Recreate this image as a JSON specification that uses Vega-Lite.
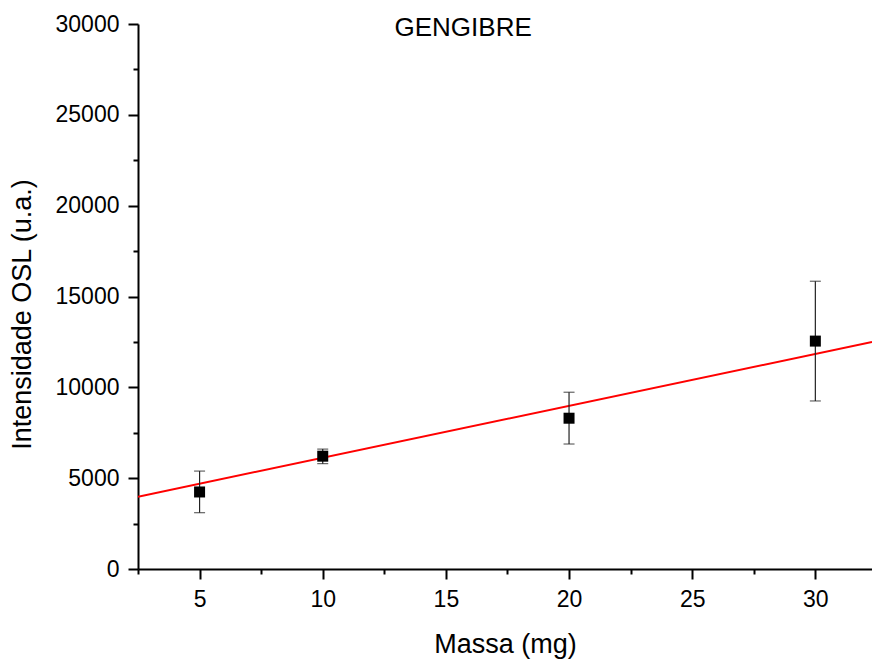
{
  "$schema": "https://vega.github.io/schema/vega-lite/v6.json",
  "width": 734,
  "height": 545,
  "autosize": {"type": "none"},
  "padding": {"left": 138, "top": 24, "right": 0, "bottom": 94},
  "background": "white",
  "config": {
    "view": {"stroke": null},
    "font": "Liberation Sans",
    "axis": {
      "grid": false,
      "domainColor": "black",
      "domainWidth": 2,
      "tickColor": "black",
      "tickWidth": 2,
      "tickSize": 10,
      "labelFont": "Liberation Sans",
      "labelFontSize": 23,
      "labelColor": "black",
      "labelPadding": 9,
      "titleFont": "Liberation Sans",
      "titleFontSize": 27,
      "titleFontWeight": "normal",
      "titleColor": "black"
    }
  },
  "datasets": {
    "pontos": [
      {"massa": 5, "osl": 4240, "lo": 3100, "hi": 5390},
      {"massa": 10, "osl": 6210, "lo": 5800, "hi": 6600},
      {"massa": 20, "osl": 8300, "lo": 6880, "hi": 9730},
      {"massa": 30, "osl": 12545, "lo": 9250, "hi": 15840}
    ],
    "ajuste": [
      {"massa": 2.5, "fit": 3980},
      {"massa": 32.3, "fit": 12495}
    ],
    "menores": [
      {"massa": 2.5, "osl": 2500}
    ],
    "rotulo": [
      {"massa": 15.7, "osl": 29350, "nome": "GENGIBRE"}
    ]
  },
  "resolve": {"axis": {"x": "independent", "y": "independent"}},
  "layer": [
    {
      "data": {"name": "menores"},
      "mark": {"type": "point", "opacity": 0},
      "encoding": {
        "x": {
          "field": "massa", "type": "quantitative",
          "scale": {"domain": [2.5, 32.3], "nice": false, "zero": false},
          "axis": {
            "orient": "bottom", "title": null, "labels": false, "domain": false,
            "values": [2.5, 7.5, 12.5, 17.5, 22.5, 27.5], "tickSize": 5
          }
        },
        "y": {
          "field": "osl", "type": "quantitative",
          "scale": {"domain": [0, 30000], "nice": false},
          "axis": {
            "orient": "left", "title": null, "labels": false, "domain": false,
            "values": [2500, 7500, 12500, 17500, 22500, 27500], "tickSize": 5
          }
        }
      }
    },
    {
      "data": {"name": "ajuste"},
      "mark": {"type": "line", "color": "#ff0000", "strokeWidth": 2, "clip": true},
      "encoding": {
        "x": {
          "field": "massa", "type": "quantitative",
          "scale": {"domain": [2.5, 32.3], "nice": false, "zero": false},
          "axis": {
            "orient": "bottom", "title": "Massa (mg)", "titlePadding": 20,
            "values": [5, 10, 15, 20, 25, 30]
          }
        },
        "y": {
          "field": "fit", "type": "quantitative",
          "scale": {"domain": [0, 30000], "nice": false},
          "axis": {
            "orient": "left", "title": "Intensidade OSL (u.a.)", "titlePadding": 19,
            "titleY": 290,
            "values": [0, 5000, 10000, 15000, 20000, 25000, 30000],
            "format": "d"
          }
        }
      }
    },
    {
      "data": {"name": "pontos"},
      "mark": {"type": "rule", "color": "#222222", "strokeWidth": 1.2},
      "encoding": {
        "x": {"field": "massa", "type": "quantitative", "axis": null},
        "y": {"field": "lo", "type": "quantitative", "axis": null},
        "y2": {"field": "hi"}
      }
    },
    {
      "data": {"name": "pontos"},
      "mark": {"type": "tick", "orient": "horizontal", "color": "#222222", "size": 11, "thickness": 1.2},
      "encoding": {
        "x": {"field": "massa", "type": "quantitative", "axis": null},
        "y": {"field": "lo", "type": "quantitative", "axis": null}
      }
    },
    {
      "data": {"name": "pontos"},
      "mark": {"type": "tick", "orient": "horizontal", "color": "#222222", "size": 11, "thickness": 1.2},
      "encoding": {
        "x": {"field": "massa", "type": "quantitative", "axis": null},
        "y": {"field": "hi", "type": "quantitative", "axis": null}
      }
    },
    {
      "data": {"name": "pontos"},
      "mark": {"type": "square", "color": "black", "filled": true, "opacity": 1, "size": 121},
      "encoding": {
        "x": {"field": "massa", "type": "quantitative", "axis": null},
        "y": {"field": "osl", "type": "quantitative", "axis": null}
      }
    },
    {
      "data": {"name": "rotulo"},
      "mark": {"type": "text", "font": "Liberation Sans", "fontSize": 26, "color": "black", "align": "center", "baseline": "alphabetic"},
      "encoding": {
        "x": {"field": "massa", "type": "quantitative", "axis": null},
        "y": {"field": "osl", "type": "quantitative", "axis": null},
        "text": {"field": "nome"}
      }
    }
  ]
}
